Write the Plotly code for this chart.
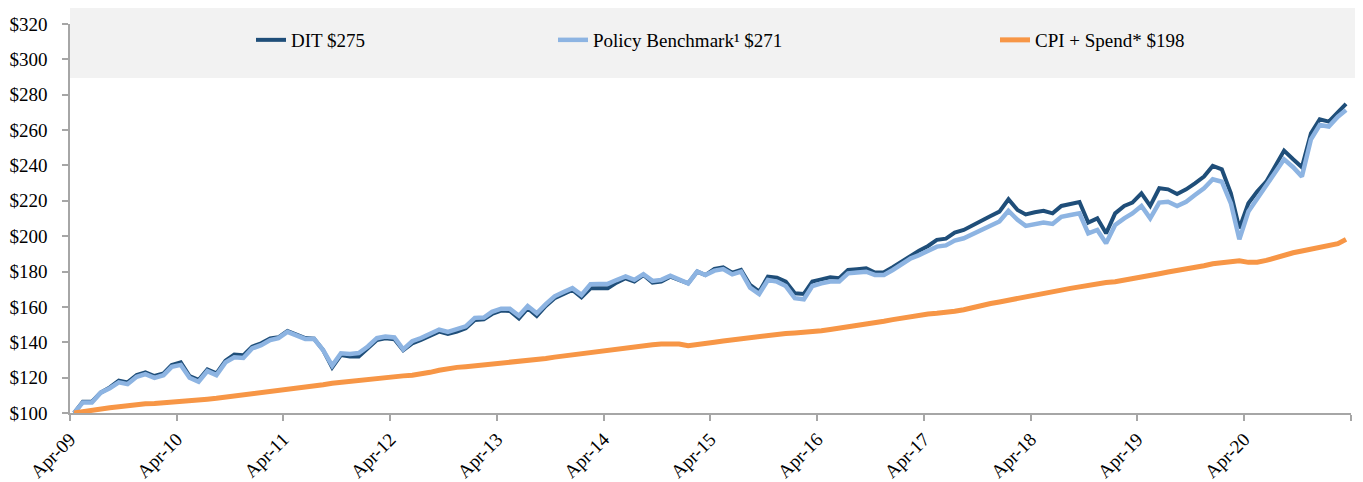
import pandas as pd
import plotly.graph_objects as go

months = pd.date_range("2009-04-01", periods=144, freq="MS") + pd.Timedelta(days=14)

dit = [100, 106.4, 106.4, 111.5, 114.5, 118.3, 117.3, 121.5, 123, 120.9, 122.4, 127.1,
       128.7, 120.9, 118.7, 124.7, 122.4, 129.6, 133, 132.6, 137.5, 139.4, 142.2, 142.8,
       146.4, 144.7, 142.4, 142, 135.6, 125.8, 132.8, 131.9, 131.9, 136.6, 141.3, 142.2,
       141.7, 135.5, 139.4, 141.3, 143.6, 146, 144.7, 146, 147.9, 152.6, 153, 156,
       157.9, 157.7, 153.5, 159.2, 154.9, 160.5, 164.9, 167.3, 169.6, 165.4, 170.5, 170.5,
       170.5, 173.7, 176.2, 174.3, 178, 173.7, 174.3, 177.1, 175.2, 173.3, 180, 178,
       181.5, 182.4, 179.4, 180.9, 172.4, 168.6, 177.1, 176.5, 174.3, 167.7, 167.3, 174.3,
       175.6, 176.7, 176.2, 180.9, 181.3, 181.8, 179.4, 179.6, 182.4, 185.6, 189.4, 191.8,
       194.5, 197.9, 198.6, 202, 203.5, 206.3, 209.2, 211.4, 213.9, 220.9, 214.8, 212.3,
       213.5, 214.4, 212.9, 217.1, 218.2, 219.3, 207.7, 210.1, 201.6, 212.9, 217.1, 219,
       224.2, 217.1, 227.1, 226.5, 223.9, 226.5, 229.9, 233.7, 239.7, 237.8, 224.2, 204.4,
       218.6, 225.2, 230.8, 239.7, 248.4, 243.5, 239, 258.2, 266.1, 264.8, 269.9, 274.8]

benchmark = [100, 106, 106, 111.5, 114, 117.3, 116.3, 120.5, 122, 119.9, 121.4, 126.1,
             127.2, 119.9, 117.7, 123.7, 121.4, 128.6, 131.5, 131.1, 136.5, 138.4, 141.2, 142.3,
             145.9, 144.2, 141.9, 142, 135.6, 126.8, 133.8, 133.4, 133.9, 137.6, 142.3, 143.2,
             142.7, 136, 140.6, 142.4, 144.8, 147.2, 145.9, 147.2, 149, 153.8, 154, 157.2,
             159, 158.9, 155, 160.5, 156.4, 161.6, 166, 168.4, 170.6, 166.8, 172.8, 173,
             173, 175.2, 177.2, 175.3, 178.5, 174.7, 175.3, 177.6, 175.7, 173.3, 180, 178,
             180.5, 181.4, 178.4, 179.9, 170.9, 167.3, 175.2, 174.3, 171.8, 164.9, 164.3, 171.8,
             173.3, 174.3, 174.3, 179, 179.4, 179.9, 178.1, 178.1, 180.9, 184.3, 187.5, 189.3,
             191.8, 194.1, 194.8, 197.5, 198.8, 201.3, 203.6, 205.8, 208.3, 214.4, 209.2, 205.8,
             206.9, 207.7, 206.9, 211, 212, 212.9, 201.6, 203.5, 196, 206.3, 210.1, 212.9,
             217.1, 210.1, 219, 219.5, 217.1, 219.5, 223.3, 227.1, 232.2, 230.8, 218.6, 198.2,
             213.9, 221.4, 228, 236.5, 243.5, 239, 233.7, 254.8, 262.9, 262, 267.6, 271.4]

cpi_spend = [100, 100.8, 101.8, 102.4, 103, 103.5, 104.2, 104.8, 105.2, 105.4, 105.7, 106,
             106.4, 106.8, 107.3, 107.8, 108.3, 108.9, 109.5, 110.2, 110.9, 111.4, 111.9, 112.6,
             113.5, 114.2, 114.8, 115.4, 116, 116.8, 117.4, 117.9, 118.5, 119, 119.6, 120.1,
             120.6, 121, 121.4, 122, 123, 124.2, 125.2, 125.8, 126.2, 126.7, 127.2, 127.5,
             127.7, 128.2, 128.9, 129.5, 130.2, 130.8, 131.6, 132.3, 133, 133.5, 134, 134.8,
             135.6, 136.4, 137, 137.5, 138.1, 138.6, 139, 139, 139, 138, 138.5, 139.2,
             140, 140.7, 141.4, 142.1, 142.8, 143.4, 144, 144.6, 145, 145.3, 145.5, 145.8,
             146.5, 147.2, 147.9, 148.6, 149.3, 150, 150.9, 151.9, 152.8, 153.7, 154.6, 155.4,
             156, 156.4, 156.8, 157.5, 158.4, 159.7, 161, 161.9, 162.8, 163.7, 164.5, 165.3,
             166.3, 167.3, 168.4, 169.5, 170.5, 171.5, 172.5, 173.3, 173.8, 174.2, 175, 176,
             177, 177.9, 178.8, 179.7, 180.5, 181.3, 182.3, 183.3, 184.4, 185.2, 185.8, 186.1,
             185.2, 185.3, 186.3, 187.8, 189.4, 190.6, 191.6, 192.5, 193.8, 194.8, 195.8, 198.2]

series_names = ["DIT $275", "Policy Benchmark¹ $271", "CPI + Spend* $198"]
tick_dates = pd.date_range("2009-04-01", periods=13, freq="12MS")
tick_labels = ["Apr-09", "Apr-10", "Apr-11", "Apr-12", "Apr-13", "Apr-14", "Apr-15",
               "Apr-16", "Apr-17", "Apr-18", "Apr-19", "Apr-20", ""]

FONT = "Liberation Serif"
fig = go.Figure()
fig.add_trace(go.Scatter(x=months, y=dit, mode="lines", name=series_names[0],
                         line=dict(color="#1f4e79", width=4), legend="legend"))
fig.add_trace(go.Scatter(x=months, y=benchmark, mode="lines", name=series_names[1],
                         line=dict(color="#8db4e2", width=4.5), legend="legend2"))
fig.add_trace(go.Scatter(x=months, y=cpi_spend, mode="lines", name=series_names[2],
                         line=dict(color="#f79646", width=5), legend="legend3"))

# page has an 8px body margin; figure sized/margined so the plot lands at page px 70..1351 x 24..413
OFF = 8
W, H = 1363 - OFF, 482 - OFF
ml, mr, mt, mb = 70 - OFF, 12, 24 - OFF, 69
pw = W - ml - mr
ph = H - mt - mb

def px(x):
    return (x - OFF - ml) / pw

def py(y):
    return (H - mb - (y - OFF)) / ph

leg_common = dict(bgcolor="rgba(0,0,0,0)", font=dict(family=FONT, size=19, color="#000000"),
                  yanchor="middle", xanchor="left", y=py(40), orientation="h")

fig.update_layout(
    width=W, height=H,
    margin=dict(l=ml, r=mr, t=mt, b=mb, autoexpand=False),
    paper_bgcolor="white", plot_bgcolor="white",
    font=dict(family=FONT, color="#000000"),
    showlegend=True,
    legend=dict(x=px(251), **leg_common),
    legend2=dict(x=px(553), **leg_common),
    legend3=dict(x=px(995), **leg_common),
    shapes=[dict(type="rect", xref="paper", yref="paper", x0=0, x1=px(1370),
                 y0=py(78), y1=py(2), fillcolor="#f2f2f2", line=dict(width=0), layer="below")],
    xaxis=dict(range=[pd.Timestamp("2009-04-01"), pd.Timestamp("2021-04-01")],
               tickvals=tick_dates, ticktext=tick_labels, tickangle=-45,
               ticks="outside", ticklen=6, tickcolor="#a6a6a6", tickwidth=1.5,
               showline=True, linecolor="#a6a6a6", linewidth=1.5,
               showgrid=False, zeroline=False, automargin=False,
               tickfont=dict(family=FONT, size=19, color="#000000")),
    yaxis=dict(range=[100, 320], dtick=20, tick0=100, tickprefix="$",
               ticks="outside", ticklen=6, tickcolor="#a6a6a6", tickwidth=1.5,
               showline=True, linecolor="#a6a6a6", linewidth=1.5,
               showgrid=False, zeroline=False, automargin=False, ticklabelstandoff=11,
               tickfont=dict(family=FONT, size=19, color="#000000")),
)

fig.write_html("out.html")
